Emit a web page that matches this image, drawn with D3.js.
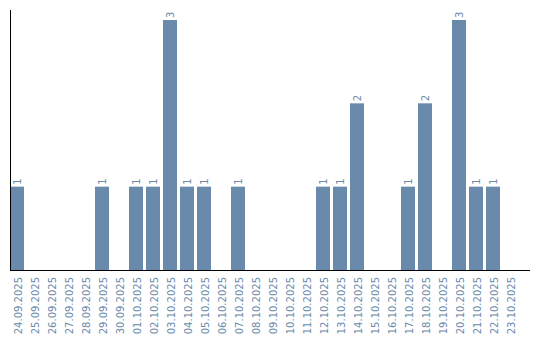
<!DOCTYPE html>
<html><head><meta charset="utf-8">
<script src="https://cdn.jsdelivr.net/npm/d3@7"></script>
<style>body{margin:0;background:#fff}</style>
</head><body><svg id="c" width="540" height="340"></svg>
<script>
const dates = ["24.09.2025","25.09.2025","26.09.2025","27.09.2025","28.09.2025","29.09.2025","30.09.2025","01.10.2025","02.10.2025","03.10.2025","04.10.2025","05.10.2025","06.10.2025","07.10.2025","08.10.2025","09.10.2025","10.10.2025","11.10.2025","12.10.2025","13.10.2025","14.10.2025","15.10.2025","16.10.2025","17.10.2025","18.10.2025","19.10.2025","20.10.2025","21.10.2025","22.10.2025","23.10.2025"];
const counts = [1,0,0,0,0,1,0,1,1,3,1,1,0,1,0,0,0,0,1,1,2,0,0,1,2,0,3,1,1,0];

const color = "#6a8aab";
const svg = d3.select("#c");
const x = d3.scaleBand().domain(dates).range([10, 520]).padding(0);
const y = d3.scaleLinear().domain([0, 3]).range([270, 20]);
const barW = x.bandwidth() - 3;
const data = dates.map((d, i) => ({d, v: counts[i]}));

svg.selectAll("rect.bar").data(data.filter(e => e.v > 0)).enter().append("rect")
  .attr("x", e => x(e.d)).attr("y", e => y(e.v))
  .attr("width", barW).attr("height", e => y(0) - y(e.v))
  .attr("fill", color);

svg.selectAll("text.val").data(data.filter(e => e.v > 0)).enter().append("text")
  .attr("transform", e => `translate(${x(e.d) + barW/2 + 3.5},${y(e.v) - 2}) rotate(-90)`)
  .attr("text-anchor", "start")
  .style("font", "10px 'DejaVu Sans'").attr("fill", color)
  .text(e => e.v);

svg.selectAll("text.lab").data(dates).enter().append("text")
  .attr("transform", d => `translate(${x(d) + barW/2 + 5},277) rotate(-90)`)
  .attr("text-anchor", "end")
  .style("font", "10px 'DejaVu Sans'").attr("fill", color)
  .text(d => d);

svg.append("line").attr("x1", 10.5).attr("x2", 10.5).attr("y1", 10).attr("y2", 270.5)
  .attr("stroke", "#000").attr("stroke-width", 1);
svg.append("line").attr("x1", 10).attr("x2", 530).attr("y1", 270.5).attr("y2", 270.5)
  .attr("stroke", "#000").attr("stroke-width", 1);
</script></body></html>
